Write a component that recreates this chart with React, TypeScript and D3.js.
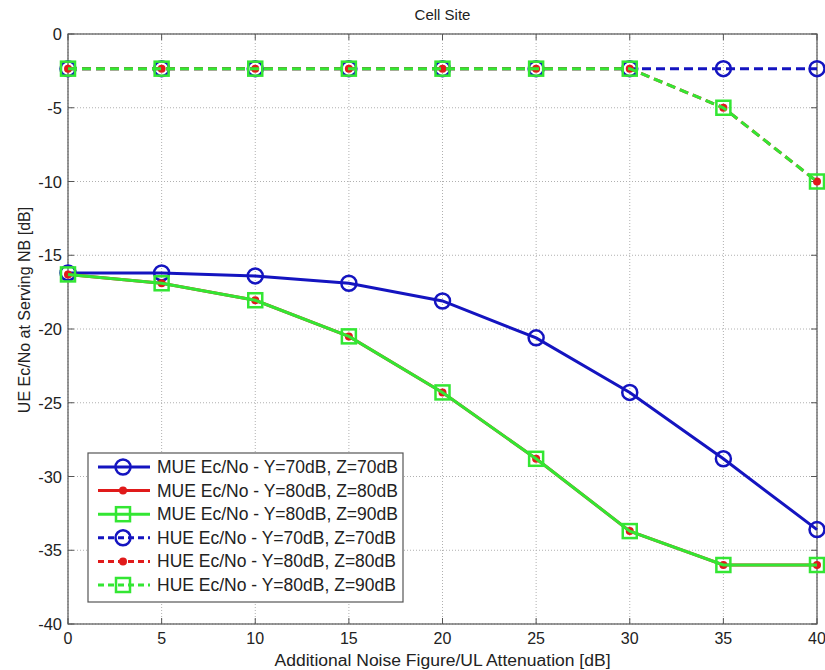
import React from "react";
import * as d3 from "d3";

const xValues = [0, 5, 10, 15, 20, 25, 30, 35, 40];
const mueY70Z70 = [-16.2, -16.2, -16.4, -16.9, -18.1, -20.6, -24.3, -28.8, -33.6];
const mueY80Z80 = [-16.3, -16.9, -18.05, -20.5, -24.3, -28.8, -33.7, -36.0, -36.0];
const mueY80Z90 = [-16.3, -16.9, -18.05, -20.5, -24.3, -28.8, -33.7, -36.0, -36.0];
const hueY70Z70 = [-2.35, -2.35, -2.35, -2.35, -2.35, -2.35, -2.35, -2.35, -2.35];
const hueY80Z80 = [-2.35, -2.35, -2.35, -2.35, -2.35, -2.35, -2.35, -5.0, -10.0];
const hueY80Z90 = [-2.35, -2.35, -2.35, -2.35, -2.35, -2.35, -2.35, -5.0, -10.0];
const xTicks = [0, 5, 10, 15, 20, 25, 30, 35, 40];
const yTicks = [0, -5, -10, -15, -20, -25, -30, -35, -40];
const seriesLabels = [
  "MUE Ec/No - Y=70dB, Z=70dB",
  "MUE Ec/No - Y=80dB, Z=80dB",
  "MUE Ec/No - Y=80dB, Z=90dB",
  "HUE Ec/No - Y=70dB, Z=70dB",
  "HUE Ec/No - Y=80dB, Z=80dB",
  "HUE Ec/No - Y=80dB, Z=90dB",
];

const BLUE = "#1414c0";
const RED = "#e01a1a";
const GREEN = "#33e633";

type Series = { label: string; values: number[]; color: string; dashed: boolean; marker: "circle" | "dot" | "square" };

const series: Series[] = [
  { label: seriesLabels[0], values: mueY70Z70, color: BLUE, dashed: false, marker: "circle" },
  { label: seriesLabels[1], values: mueY80Z80, color: RED, dashed: false, marker: "dot" },
  { label: seriesLabels[2], values: mueY80Z90, color: GREEN, dashed: false, marker: "square" },
  { label: seriesLabels[3], values: hueY70Z70, color: BLUE, dashed: true, marker: "circle" },
  { label: seriesLabels[4], values: hueY80Z80, color: RED, dashed: true, marker: "dot" },
  { label: seriesLabels[5], values: hueY80Z90, color: GREEN, dashed: true, marker: "square" },
];

const W = 825;
const H = 670;
const left = 68;
const right = 817;
const top = 34;
const bottom = 624;
const FONT = "'Liberation Sans', Arial, Helvetica, sans-serif";

function Marker({ kind, x, y, color }: { kind: string; x: number; y: number; color: string }) {
  if (kind === "circle") return <circle cx={x} cy={y} r={7.5} fill="none" stroke={color} strokeWidth={2.5} />;
  if (kind === "square") return <rect x={x - 7} y={y - 7} width={14} height={14} fill="none" stroke={color} strokeWidth={2.5} />;
  return <circle cx={x} cy={y} r={4} fill={color} stroke="none" />;
}

export default function App() {
  const x = d3.scaleLinear().domain([0, 40]).range([left, right]);
  const y = d3.scaleLinear().domain([-40, 0]).range([bottom, top]);
  const line = d3
    .line<number>()
    .x((_, i) => x(xValues[i]))
    .y((d) => y(d));

  const legX = 88;
  const legY = 453;
  const legW = 315;
  const legH = 149;
  const rowY0 = 467;
  const rowDy = 23.6;

  return (
    <svg width={W} height={H} style={{ position: "absolute", left: 0, top: 0, background: "#fff" }} fontFamily={FONT}>
      <rect x={0} y={0} width={W} height={H} fill="#fff" />
      {/* grid */}
      {xTicks.map((t) => (
        <line key={"gx" + t} x1={x(t)} x2={x(t)} y1={top} y2={bottom} stroke="#b0b0b0" strokeWidth={1} strokeDasharray="1,2" />
      ))}
      {yTicks.map((t) => (
        <line key={"gy" + t} x1={left} x2={right} y1={y(t)} y2={y(t)} stroke="#b0b0b0" strokeWidth={1} strokeDasharray="1,2" />
      ))}
      {/* ticks */}
      {xTicks.map((t) => (
        <g key={"tx" + t}>
          <line x1={x(t)} x2={x(t)} y1={bottom} y2={bottom - 6} stroke="#555" />
          <line x1={x(t)} x2={x(t)} y1={top} y2={top + 6} stroke="#555" />
          <text x={x(t)} y={bottom + 20} textAnchor="middle" fontSize={16} fill="#222">
            {t}
          </text>
        </g>
      ))}
      {yTicks.map((t) => (
        <g key={"ty" + t}>
          <line x1={left} x2={left + 6} y1={y(t)} y2={y(t)} stroke="#555" />
          <line x1={right} x2={right - 6} y1={y(t)} y2={y(t)} stroke="#555" />
          <text x={left - 6} y={y(t) + 6} textAnchor="end" fontSize={16.5} fill="#222">
            {t}
          </text>
        </g>
      ))}
      <rect x={left} y={top} width={right - left} height={bottom - top} fill="none" stroke="#555" strokeWidth={1.2} />
      {/* series */}
      {series.map((s, si) => (
        <g key={"s" + si}>
          <path d={line(s.values) || ""} fill="none" stroke={s.color} strokeWidth={3} strokeDasharray={s.dashed ? "9,5" : undefined} />
          {s.values.map((v, i) => (
            <Marker key={i} kind={s.marker} x={x(xValues[i])} y={y(v)} color={s.color} />
          ))}
        </g>
      ))}
      {/* title and labels */}
      <text x={(left + right) / 2} y={20} textAnchor="middle" fontSize={15} fill="#222">
        Cell Site
      </text>
      <text x={(left + right) / 2} y={666} textAnchor="middle" fontSize={16} fill="#222" textLength={336} lengthAdjust="spacingAndGlyphs">
        Additional Noise Figure/UL Attenuation [dB]
      </text>
      <text transform={`translate(30, 310) rotate(-90)`} textAnchor="middle" fontSize={16} fill="#222">
        UE Ec/No at Serving NB [dB]
      </text>
      {/* legend */}
      <rect x={legX} y={legY} width={legW} height={legH} fill="#fff" stroke="#555" strokeWidth={1.2} />
      {series.map((s, i) => {
        const ly = rowY0 + i * rowDy;
        return (
          <g key={"l" + i}>
            <line x1={98} x2={150} y1={ly} y2={ly} stroke={s.color} strokeWidth={3} strokeDasharray={s.dashed ? "6,4" : undefined} />
            <Marker kind={s.marker} x={123} y={ly} color={s.color} />
            <text x={157} y={ly + 6} fontSize={17.5} fill="#222">
              {s.label}
            </text>
          </g>
        );
      })}
    </svg>
  );
}
